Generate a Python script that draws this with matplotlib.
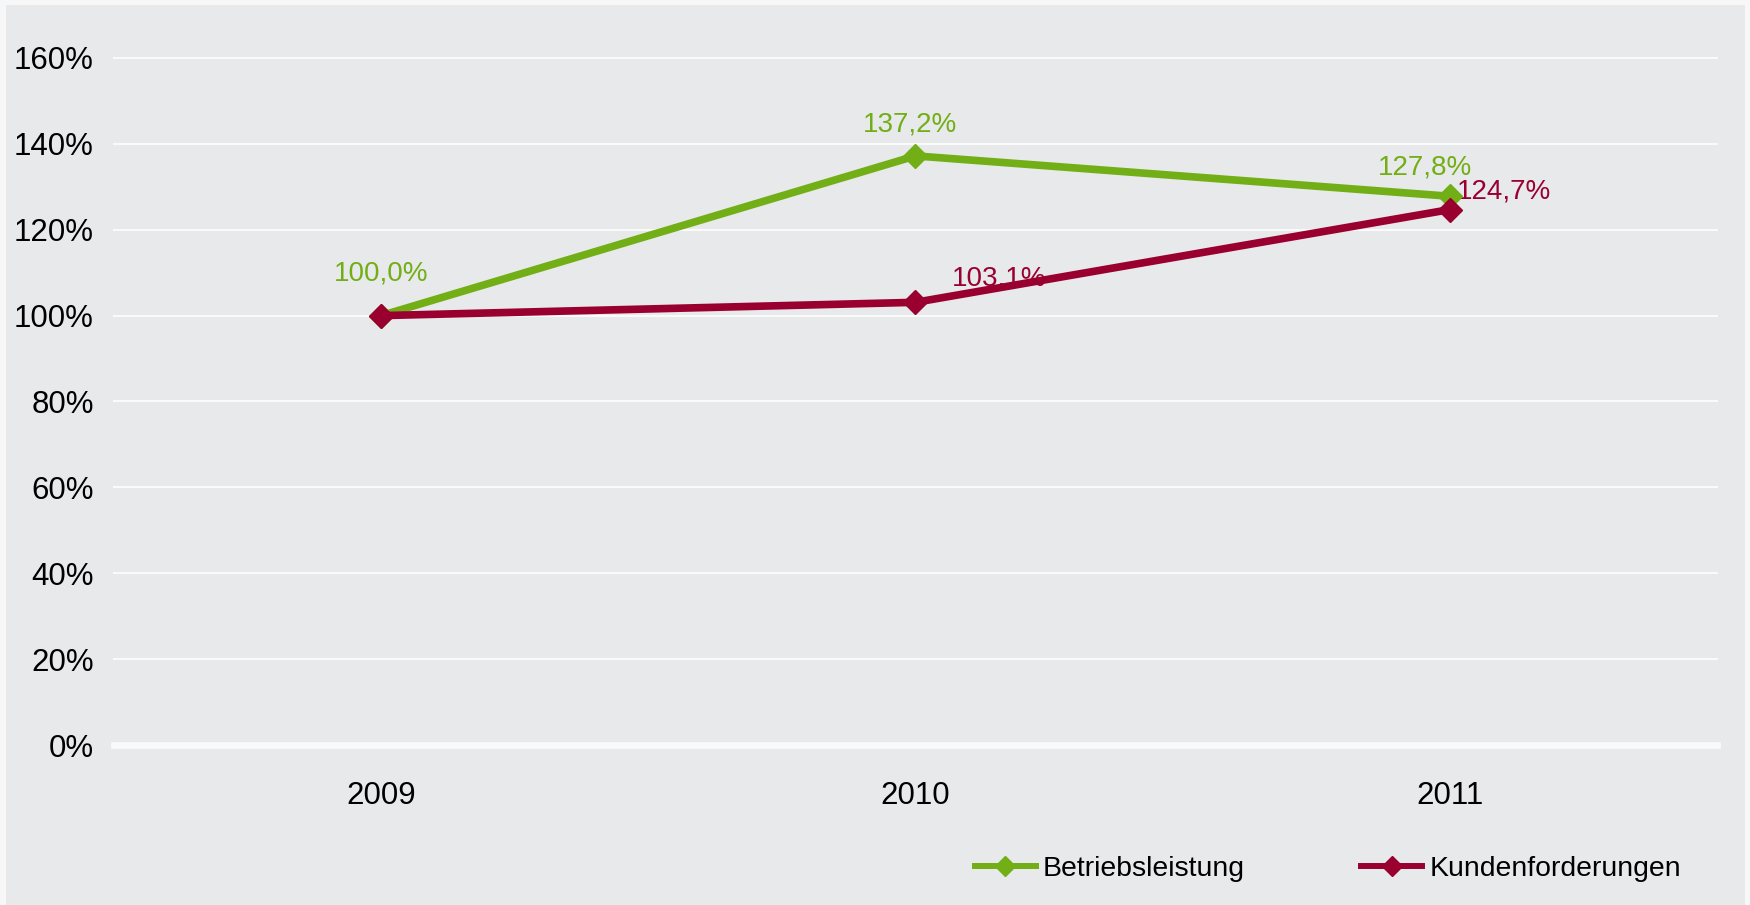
import matplotlib
matplotlib.use("Agg")
import matplotlib.pyplot as plt
from matplotlib.patches import Rectangle
import numpy as np

plt.rcParams['font.family'] = ['Liberation Sans', 'DejaVu Sans']

years = ["2009", "2010", "2011"]
betrieb = [100.0, 137.2, 127.8]
kunden = [100.0, 103.1, 124.7]
betrieb_labels = ["100,0%", "137,2%", "127,8%"]
kunden_labels = ["103,1%", "124,7%"]
yticks = [0, 20, 40, 60, 80, 100, 120, 140, 160]

GREEN = '#72AE16'
RED = '#990030'

W, H = 1750, 905
fig = plt.figure(figsize=(W/100, H/100), dpi=100, facecolor='#F7F7F7')
fig.patches.append(Rectangle((6/W, 0), (1745-6)/W, 1-5/H, transform=fig.transFigure,
                             facecolor='#E8E9EB', edgecolor='none', zorder=-10))

ax = fig.add_axes([114/W, 1-745/H, (1717-114)/W, (745-58)/H])
ax.set_facecolor('none')
for s in ax.spines.values():
    s.set_visible(False)

x = np.arange(len(years)) + 0.5
ax.set_xlim(0, 3)
ax.set_ylim(0, 160)

for t in yticks:
    lw = 4.8 if t == 0 else 1.5
    ax.axhline(t, color='#FAFAFA', lw=lw, zorder=1, clip_on=False)

ax.plot(x, betrieb, color=GREEN, lw=5.5, marker='D', ms=12.7, zorder=3,
        label='Betriebsleistung', clip_on=False)
ax.plot(x, kunden, color=RED, lw=5.5, marker='D', ms=12.7, zorder=4,
        label='Kundenforderungen', clip_on=False)

ax.set_yticks(yticks)
ax.set_yticklabels([f"{t}%" for t in yticks])
ax.set_xticks(x)
ax.set_xticklabels(years)
ax.tick_params(axis='both', length=0, labelsize=22.5, colors='black')
ax.tick_params(axis='y', pad=14.5)
ax.tick_params(axis='x', pad=26)

# data labels (offsets in points)
boffs = [(0, 30), (-4, 22.5), (-18, 21)]
for xi, v, lab, (dx, dy) in zip(x, betrieb, betrieb_labels, boffs):
    ax.annotate(lab, (xi, v), xytext=(dx, dy), textcoords='offset points',
                ha='center', va='center', color=GREEN, fontsize=20, zorder=5)
koffs = [(60, 17), (39, 13)]
for xi, v, lab, (dx, dy) in zip(x[1:], kunden[1:], kunden_labels, koffs):
    ax.annotate(lab, (xi, v), xytext=(dx, dy), textcoords='offset points',
                ha='center', va='center', color=RED, fontsize=20, zorder=2)

leg = fig.legend(loc='center left', bbox_to_anchor=(975/W, 1-869/H), ncol=2,
                 frameon=False, fontsize=20.4, handlelength=2.15, handletextpad=0.25,
                 columnspacing=4.1, borderpad=0, borderaxespad=0, markerscale=0.8)
for h in leg.legend_handles:
    h.set_linewidth(4.3)

fig.savefig('out.png', dpi=100, facecolor=fig.get_facecolor())
